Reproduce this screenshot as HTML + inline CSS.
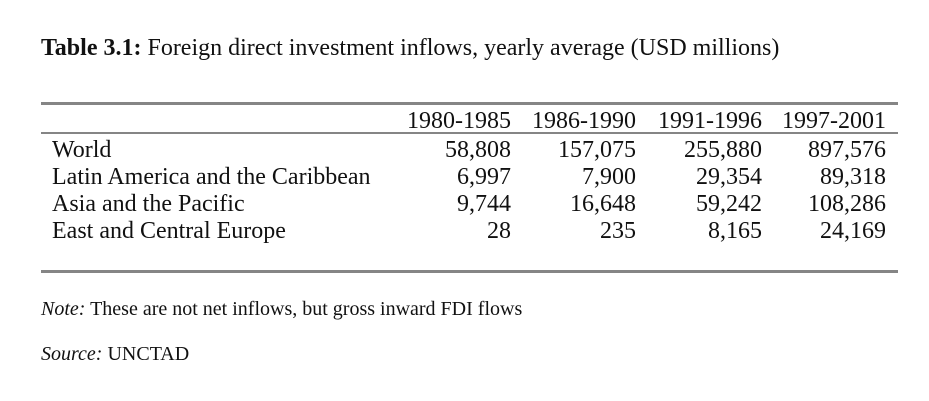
<!DOCTYPE html>
<html><head><style>
body{margin:0;width:929px;height:401px;background:#fff;position:relative;overflow:hidden;font-family:"Liberation Serif","Times New Roman",serif;color:#111}
.t{position:absolute;white-space:nowrap;line-height:1}
.r{text-align:right}
.l{position:absolute;left:41px;width:857px;background:#858585}
.c{font-size:24px}
</style></head><body>
<div class="t" style="left:41px;top:36px;font-size:24px"><b>Table 3.1:</b> Foreign direct investment inflows, yearly average (USD millions)</div>
<div class="l" style="top:102px;height:3px"></div>
<div class="l" style="top:132px;height:2px"></div>
<div class="l" style="top:270px;height:3px"></div>
<div class="t c r" style="right:418px;top:109px">1980-1985</div>
<div class="t c r" style="right:293px;top:109px">1986-1990</div>
<div class="t c r" style="right:167px;top:109px">1991-1996</div>
<div class="t c r" style="right:43px;top:109px">1997-2001</div>

<div class="t c" style="left:52px;top:138px">World</div>
<div class="t c r" style="right:418px;top:138px">58,808</div>
<div class="t c r" style="right:293px;top:138px">157,075</div>
<div class="t c r" style="right:167px;top:138px">255,880</div>
<div class="t c r" style="right:43px;top:138px">897,576</div>

<div class="t c" style="left:52px;top:165px">Latin America and the Caribbean</div>
<div class="t c r" style="right:418px;top:165px">6,997</div>
<div class="t c r" style="right:293px;top:165px">7,900</div>
<div class="t c r" style="right:167px;top:165px">29,354</div>
<div class="t c r" style="right:43px;top:165px">89,318</div>

<div class="t c" style="left:52px;top:192px">Asia and the Pacific</div>
<div class="t c r" style="right:418px;top:192px">9,744</div>
<div class="t c r" style="right:293px;top:192px">16,648</div>
<div class="t c r" style="right:167px;top:192px">59,242</div>
<div class="t c r" style="right:43px;top:192px">108,286</div>

<div class="t c" style="left:52px;top:219px">East and Central Europe</div>
<div class="t c r" style="right:418px;top:219px">28</div>
<div class="t c r" style="right:293px;top:219px">235</div>
<div class="t c r" style="right:167px;top:219px">8,165</div>
<div class="t c r" style="right:43px;top:219px">24,169</div>

<div class="t" style="left:41px;top:299px;font-size:20px"><i>Note:</i> These are not net inflows, but gross inward FDI flows</div>
<div class="t" style="left:41px;top:344px;font-size:20px"><i>Source:</i> UNCTAD</div>
</body></html>
